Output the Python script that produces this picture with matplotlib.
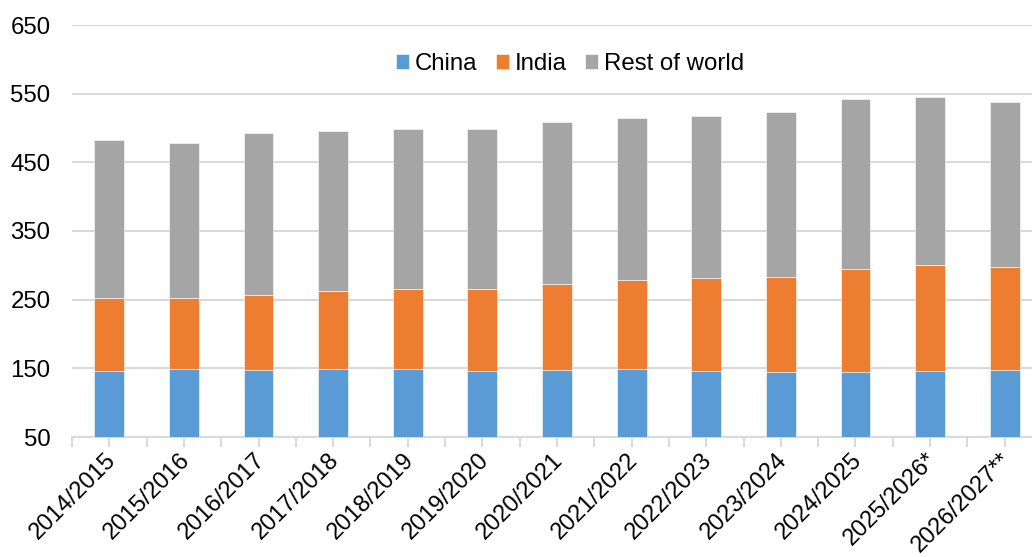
import numpy as np
import matplotlib.pyplot as plt
import matplotlib.transforms as mtransforms
from matplotlib.ticker import FixedLocator

plt.rcParams['font.family'] = ['Liberation Sans', 'DejaVu Sans']

seasons = ['2014/2015', '2015/2016', '2016/2017', '2017/2018', '2018/2019',
           '2019/2020', '2020/2021', '2021/2022', '2022/2023', '2023/2024',
           '2024/2025', '2025/2026*', '2026/2027**']
china = [146, 148.5, 147.5, 148.5, 148.5, 146, 147.5, 149, 146, 144.5, 145, 146, 147]
# stack tops
india_top = [252, 252, 257, 262, 265, 265.5, 273, 278.5, 281.5, 283, 295, 300.5, 297.5]
total = [483, 478, 492, 495, 498.5, 499, 509, 514, 517, 524, 542, 545, 538]

base = 50
china = np.array(china)
india = np.array(india_top) - china
rest = np.array(total) - np.array(india_top)

blue = '#5B9BD5'
orange = '#ED7D31'
grey = '#A5A5A5'
gridc = '#D9D9D9'

fig = plt.figure(figsize=(10.32, 5.57), dpi=100)
# plot area runs a little past the right edge of the picture (cropped original)
ax = fig.add_axes([72 / 1032, 1 - 437 / 557, 970 / 1032, (437 - 25) / 557])

x = np.arange(len(seasons))
w = 0.4
ax.bar(x, china - base, w, bottom=base, color=blue, label='China',
       edgecolor='white', linewidth=0.4, zorder=3)
ax.bar(x, india, w, bottom=china, color=orange, label='India',
       edgecolor='white', linewidth=0.4, zorder=3)
ax.bar(x, rest, w, bottom=china + india, color=grey, label='Rest of world',
       edgecolor='white', linewidth=0.4, zorder=3)

ax.set_ylim(50, 650)
ax.set_xlim(-0.5, len(seasons) - 0.5)
ax.set_yticks(np.arange(50, 651, 100))
ax.yaxis.grid(True, color=gridc, linewidth=1.5, zorder=0)
ax.set_axisbelow(True)

for s in ['top', 'right', 'left']:
    ax.spines[s].set_visible(False)
ax.spines['bottom'].set_color(gridc)
ax.spines['bottom'].set_linewidth(1.5)

ax.set_xticks(x)
ax.xaxis.set_minor_locator(FixedLocator(np.arange(-0.5, len(seasons), 1)))
ax.tick_params(axis='x', which='both', length=7, width=1.5, color=gridc)
ax.tick_params(axis='y', length=0, pad=15.5)
ax.set_xticklabels(seasons, rotation=45, ha='right', rotation_mode='anchor', fontsize=17)
shift = mtransforms.ScaledTranslation(-5 / 100, 3 / 100, fig.dpi_scale_trans)
for lbl in ax.get_xticklabels():
    lbl.set_transform(lbl.get_transform() + shift)
for lbl in ax.get_yticklabels():
    lbl.set_fontsize(17.3)

fig.legend(loc='center', bbox_to_anchor=(570 / 1032, 1 - 64 / 557), ncol=3,
           frameon=False, fontsize=17.3, handlelength=0.55, handleheight=0.55,
           handletextpad=0.25, columnspacing=0.75)

fig.savefig('out.png', dpi=100)
